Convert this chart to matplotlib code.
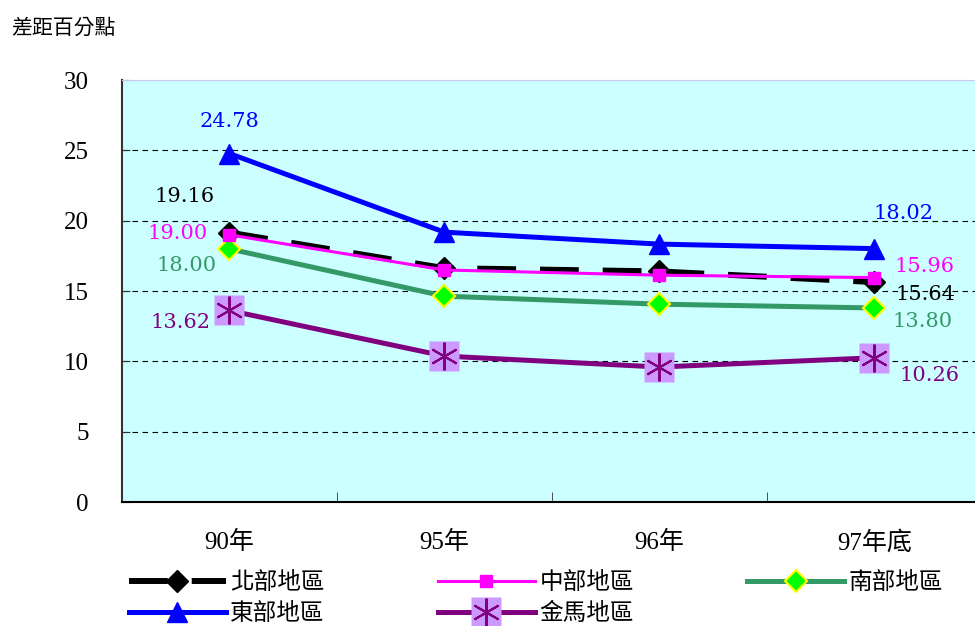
import matplotlib
matplotlib.use("Agg")
import matplotlib.pyplot as plt
from matplotlib.legend_handler import HandlerTuple

# 資料
categories = ["90年", "95年", "96年", "97年底"]
north = [19.16, 16.63, 16.40, 15.64]
central = [19.00, 16.50, 16.13, 15.96]
south = [18.00, 14.64, 14.07, 13.80]
east = [24.78, 19.19, 18.34, 18.02]
kinma = [13.62, 10.38, 9.60, 10.26]
yticks = [0, 5, 10, 15, 20, 25, 30]

cjk = ["Noto Sans CJK TC", "DejaVu Sans"]
serif = ["Liberation Serif", "Noto Sans CJK TC"]
numfont = ["DejaVu Serif"]
plt.rcParams["font.family"] = cjk

fig = plt.figure(figsize=(9.75, 6.26), dpi=100)
ax = fig.add_axes([0.125, 0.198, 0.882, 0.674])
ax.set_facecolor("#CCFFFF")

x = list(range(len(categories)))

l_n, = ax.plot(x, north, color="black", lw=4.3, ls=(0, (6.5, 4)), marker="D",
               ms=11, mfc="black", mec="black", zorder=3)
l_c, = ax.plot(x, central, color="#FF00FF", lw=2.2, marker="s", ms=8,
               mfc="#FF00FF", mec="#FF00FF", zorder=4)
l_s, = ax.plot(x, south, color="#339966", lw=3.6, marker="D", ms=11,
               mfc="#00FF00", mec="#FFFF00", mew=1.5, zorder=3)
l_e, = ax.plot(x, east, color="#0000FF", lw=3.6, marker="^", ms=14,
               mfc="#0000FF", mec="#0000FF", zorder=5)
l_k, = ax.plot(x, kinma, color="#800080", lw=3.6, marker="s", ms=22,
               mfc="#CC99FF", mec="none", zorder=3)
l_k2, = ax.plot(x, kinma, ls="none", marker=(6, 2, 0), ms=20,
                mec="#800080", mew=1.5, zorder=4)

# 數值標籤 (首尾)
labels = [
    (east, "#0000FF", (0, 23), (21, 25)),
    (north, "black", (-32, 26), (37, -9)),
    (central, "#FF00FF", (-37, 1), (36, 8)),
    (south, "#339966", (-31, -12), (35, -10)),
    (kinma, "#800080", (-35, -9), (40, -13)),
]
for vals, col, off0, off1 in labels:
    for i, off in ((0, off0), (len(vals) - 1, off1)):
        ax.annotate(f"{vals[i]:.2f}", (x[i], vals[i]), xytext=off,
                    textcoords="offset points", ha="center", va="center",
                    color=col, fontsize=15, family=numfont, zorder=6)

ax.set_xlim(-0.5, len(categories) - 0.5)
ax.set_ylim(0, 30)
ax.set_yticks(yticks)
ax.set_yticklabels([str(v) for v in yticks], family=serif, fontsize=18)
ax.set_xticks(x)
ax.set_xticklabels(categories, family=serif, fontsize=18)
ax.set_xticks([i + 0.5 for i in x[:-1]], minor=True)
ax.tick_params(axis="x", which="major", length=0, pad=21)
ax.tick_params(axis="x", which="minor", length=7, direction="in", color="#333333")
ax.tick_params(axis="y", length=6, direction="in", pad=24, color="#333333")

ax.grid(axis="y", color="black", ls=(0, (5, 4)), lw=0.8)
gl = ax.get_ygridlines()
gl[0].set_visible(False)
gl[-1].set_visible(False)

ax.spines["left"].set_color("#333333")
ax.spines["left"].set_linewidth(1.5)
ax.spines["bottom"].set_color("black")
ax.spines["bottom"].set_linewidth(1.5)
ax.spines["top"].set_color("#C8C8F0")
ax.spines["right"].set_visible(False)

fig.text(0.012, 0.955, "差距百分點", fontsize=15, va="center", ha="left", family=cjk)

handles = [l_n, l_e, l_c, (l_k, l_k2), l_s]
names = ["北部地區", "東部地區", "中部地區", "金馬地區", "南部地區"]
fig.legend(handles, names, ncol=3, loc="upper left", bbox_to_anchor=(0.132, 0.088),
           frameon=False, fontsize=17, handlelength=4.1, handletextpad=0.2,
           columnspacing=4.8, borderaxespad=0, borderpad=0, labelspacing=0.35,
           handler_map={tuple: HandlerTuple(ndivide=1, pad=0)})

fig.savefig("out.png", dpi=100)
